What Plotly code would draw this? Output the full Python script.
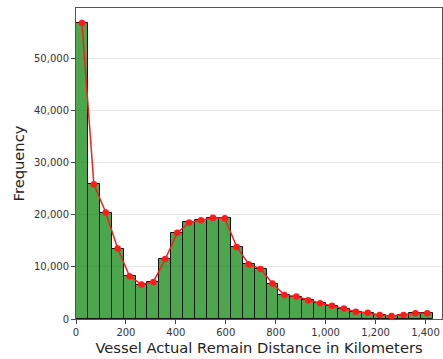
import plotly.graph_objects as go

bin_start = 0
bin_width = 47.7
counts = [56700, 25800, 20400, 13500, 8200, 6600, 7100, 11500, 16500, 18500,
          18900, 19400, 19300, 13800, 10500, 9600, 6800, 4600, 4300, 3600,
          3000, 2550, 2000, 1400, 1200, 770, 570, 770, 1080, 1080]
x_ticks = [0, 200, 400, 600, 800, 1000, 1200, 1400]
y_ticks = [0, 10000, 20000, 30000, 40000, 50000]

centers = [bin_start + bin_width * (i + 0.5) for i in range(len(counts))]

fig = go.Figure()
fig.add_trace(go.Bar(
    x=centers, y=counts, width=bin_width,
    marker=dict(color="rgba(0,128,0,0.7)", line=dict(color="#111111", width=1)),
    showlegend=False,
))
fig.add_trace(go.Scatter(
    x=centers, y=counts, mode="lines+markers",
    line=dict(color="#ff1a1a", width=1.5),
    marker=dict(color="#ff1a1a", size=6.5),
    showlegend=False,
))

font_family = "DejaVu Sans"
fig.update_layout(
    width=443, height=359,
    margin=dict(l=76, r=1, t=8, b=40),
    paper_bgcolor="white", plot_bgcolor="white",
    bargap=0,
    font=dict(family=font_family, color="#333333"),
    xaxis=dict(
        range=[0, 1466], tickvals=x_ticks, tickformat=",",
        ticks="outside", ticklen=4, tickcolor="#444444",
        showgrid=False, zeroline=False,
        showline=True, linecolor="#555555", linewidth=1, mirror=True,
        tickfont=dict(size=10, color="#333333"),
        title=dict(text="Vessel Actual Remain Distance in Kilometers",
                   font=dict(size=14.7, color="#222222"), standoff=5),
    ),
    yaxis=dict(
        range=[0, 59580], tickvals=y_ticks, tickformat=",",
        ticks="outside", ticklen=4, tickcolor="#444444",
        showgrid=True, gridcolor="#e6e6e6", gridwidth=1, zeroline=False,
        showline=True, linecolor="#555555", linewidth=1, mirror=True,
        tickfont=dict(size=10, color="#333333"),
        title=dict(text="Frequency", font=dict(size=14.7, color="#222222"), standoff=5),
    ),
)

fig.write_html("out.html")
